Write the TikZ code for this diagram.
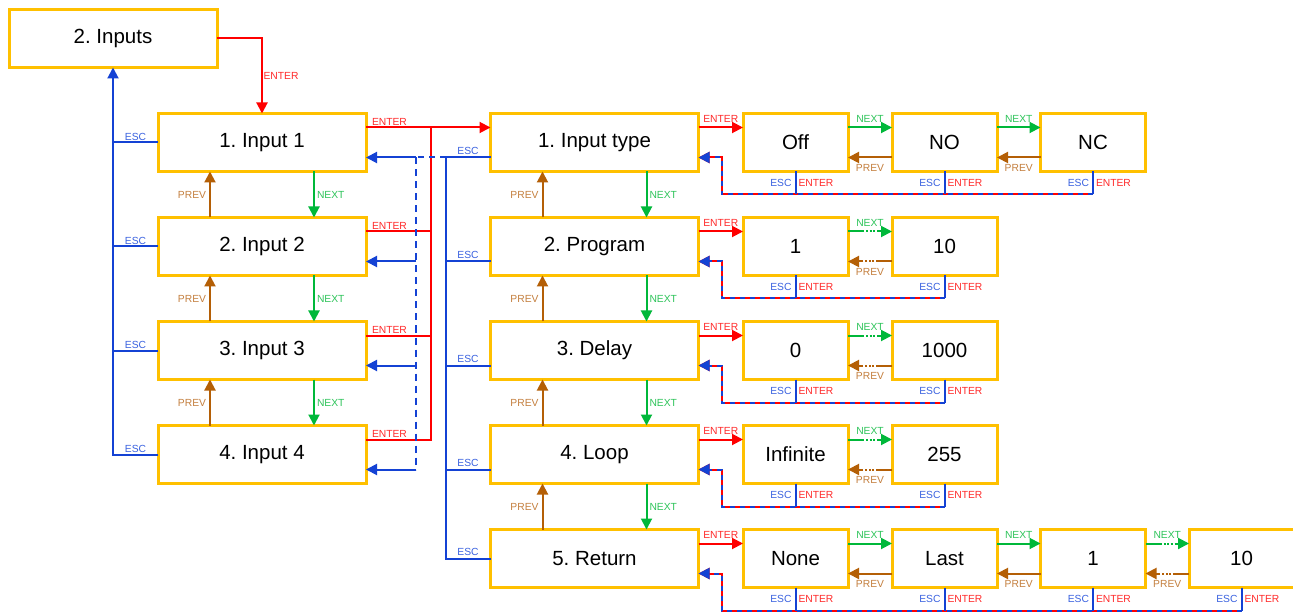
\documentclass[tikz,border=0pt]{standalone}
\usepackage{fontspec}
\setmainfont{Liberation Sans}
\usetikzlibrary{arrows.meta,calc}
\definecolor{boxc}{HTML}{FFC000}
\definecolor{redc}{HTML}{FF0000}
\definecolor{greenc}{HTML}{00B83A}
\definecolor{brownc}{HTML}{B45F06}
\definecolor{bluec}{HTML}{1442D4}
\definecolor{redt}{HTML}{FF2A2A}
\definecolor{greent}{HTML}{2EC45A}
\definecolor{brownt}{HTML}{C47F3E}
\definecolor{bluet}{HTML}{3A62E0}
\frenchspacing
\begin{document}
\begin{tikzpicture}[x=1pt,y=-1pt,
 mainbox/.style={draw=boxc, line width=3pt, fill=white, minimum width=208pt, minimum height=58pt, inner sep=0pt, outer sep=0pt, font=\fontsize{20.5}{24}\selectfont},
 valbox/.style={mainbox, minimum width=105pt},
 arrowhd/.style={-{Triangle[length=11pt,width=11pt]}},
 enterl/.style={draw=redc, line width=2pt},
 nextl/.style={draw=greenc, line width=2pt},
 prevl/.style={draw=brownc, line width=2pt},
 escl/.style={draw=bluec, line width=2pt},
 dotl/.style={dash pattern=on 16pt off 2pt on 2pt off 1.5pt on 2pt off 1.5pt on 2pt off 2pt on 80pt},
 lbl/.style={font=\fontsize{10.3}{12}\selectfont, inner sep=1pt},
 elbl/.style={lbl, text=redt},
 nlbl/.style={lbl, text=greent},
 plbl/.style={lbl, text=brownt},
 esclbl/.style={lbl, text=bluet}
]
\useasboundingbox (0,0) rectangle (1293,612);
\fill[white] (0,0) rectangle (1293,612);

% boxes
\node[mainbox] (inputs) at (113,38.5) {2. Inputs};
\node[mainbox] (in1) at (262,142.5) {1. Input 1};
\node[mainbox] (in2) at (262,246.5) {2. Input 2};
\node[mainbox] (in3) at (262,350.5) {3. Input 3};
\node[mainbox] (in4) at (262,454.5) {4. Input 4};
\node[mainbox] (m1) at (594.5,142.5) {1. Input type};
\node[mainbox] (m2) at (594.5,246.5) {2. Program};
\node[mainbox] (m3) at (594.5,350.5) {3. Delay};
\node[mainbox] (m4) at (594.5,454.5) {4. Loop};
\node[mainbox] (m5) at (594.5,558.5) {5. Return};
\node[valbox] (v11) at (795.5,142.5) {Off};
\node[valbox] (v12) at (944.5,142.5) {NO};
\node[valbox] (v13) at (1093,142.5) {NC};
\node[valbox] (v21) at (795.5,246.5) {1};
\node[valbox] (v22) at (944.5,246.5) {10};
\node[valbox] (v31) at (795.5,350.5) {0};
\node[valbox] (v32) at (944.5,350.5) {1000};
\node[valbox] (v41) at (795.5,454.5) {Infinite};
\node[valbox] (v42) at (944.5,454.5) {255};
\node[valbox] (v51) at (795.5,558.5) {None};
\node[valbox] (v52) at (944.5,558.5) {Last};
\node[valbox] (v53) at (1093,558.5) {1};
\node[valbox] (v54) at (1241.5,558.5) {10};

% Inputs -> Input 1
\draw[enterl,arrowhd] (inputs.east) -| (in1.north) node[elbl,pos=0.75,xshift=19pt]{ENTER};

% ESC back to Inputs
\draw[escl,arrowhd] (in4.west) -| (inputs.south);
\foreach \n in {in1,in2,in3,in4} {\draw[escl] (\n.west) -- ++(-45,0) node[esclbl,midway,yshift=6pt]{ESC};}

% PREV / NEXT in columns
\foreach \a/\b in {in1/in2,in2/in3,in3/in4,m1/m2,m2/m3,m3/m4,m4/m5} {
 \draw[prevl,arrowhd] ($(\b.north)+(-52,0)$) -- ($(\a.south)+(-52,0)$) node[plbl,midway,anchor=east,xshift=-2pt]{PREV};
 \draw[nextl,arrowhd] ($(\a.south)+(52,0)$) -- ($(\b.north)+(52,0)$) node[nlbl,midway,anchor=west,xshift=1pt]{NEXT};
}

% ENTER from inputs to Input type
\draw[enterl,arrowhd] ($(in1.north east)+(0,14)$) -- ($(m1.north west)+(0,14)$) node[elbl,at start,anchor=west,xshift=4pt,yshift=6pt]{ENTER};
\foreach \n in {in2,in3} {\draw[enterl] ($(\n.north east)+(0,14)$) -- ++(65,0) node[elbl,at start,anchor=west,xshift=4pt,yshift=6pt]{ENTER};}
\draw[enterl] ($(in4.north east)+(0,14)$) -- ++(65,0) node[elbl,at start,anchor=west,xshift=4pt,yshift=6pt]{ENTER} -- ($(in1.north east)+(65,14)$);

% ESC from middle column
\foreach \n in {m1,m2,m3,m4} {\draw[escl] ($(\n.north west)+(0,44)$) -- ++(-45,0) node[esclbl,midway,yshift=7pt]{ESC};}
\draw[escl] (m5.west) -- ++(-45,0) node[esclbl,midway,yshift=7pt]{ESC} -- ($(m1.north west)+(-45,44)$);
\draw[escl,dash pattern=on 6pt off 5pt] ($(m1.north west)+(-45,44)$) -- ($(in1.north east)+(50,44)$);
\draw[escl,dash pattern=on 7pt off 5pt] ($(in1.north east)+(50,44)$) -- ($(in4.north east)+(50,44)$);
\foreach \n in {in1,in2,in3,in4} {\draw[escl,arrowhd] ($(\n.north east)+(50,44)$) -- ($(\n.north east)+(0,44)$);}

% ENTER to values
\foreach \a/\b in {m1/v11,m2/v21,m3/v31,m4/v41,m5/v51} {
 \draw[enterl,arrowhd] ($(\a.north east)+(0,14)$) -- ($(\b.north west)+(0,14)$) node[elbl,midway,yshift=9pt]{ENTER};
}

% NEXT / PREV between values
\foreach \a/\b in {v11/v12,v12/v13,v51/v52,v52/v53} {
 \draw[nextl,arrowhd] ($(\a.north east)+(0,14)$) -- ($(\b.north west)+(0,14)$) node[nlbl,midway,yshift=9pt]{NEXT};
 \draw[prevl,arrowhd] ($(\b.north west)+(0,44)$) -- ($(\a.north east)+(0,44)$) node[plbl,midway,yshift=-10pt]{PREV};
}
\foreach \a/\b in {v21/v22,v31/v32,v41/v42,v53/v54} {
 \draw[nextl,arrowhd,dotl] ($(\a.north east)+(0,14)$) -- ($(\b.north west)+(0,14)$) node[nlbl,midway,yshift=9pt]{NEXT};
 \draw[prevl,arrowhd,dotl] ($(\b.north west)+(0,44)$) -- ($(\a.north east)+(0,44)$) node[plbl,midway,yshift=-10pt]{PREV};
}

% return lines (ESC / ENTER from values)
\foreach \l/\m in {v13/m1,v22/m2,v32/m3,v42/m4,v54/m5} {
 \draw[enterl,arrowhd] ($(\l.south)+(0,23)$) -| ($(\m.north east)+(23,44)$) -- ($(\m.north east)+(0,44)$);
 \draw[escl,arrowhd,dash pattern=on 5pt off 5pt] ($(\l.south)+(0,23)$) -| ($(\m.north east)+(23,44)$) -- ($(\m.north east)+(0,44)$);
}
\foreach \n in {v11,v12,v13,v21,v22,v31,v32,v41,v42,v51,v52,v53,v54} {
 \draw[escl] (\n.south) -- ++(0,23) node[esclbl,midway,anchor=east,xshift=-2pt]{ESC} node[elbl,midway,anchor=west,xshift=1pt]{ENTER};
}
\end{tikzpicture}
\end{document}
